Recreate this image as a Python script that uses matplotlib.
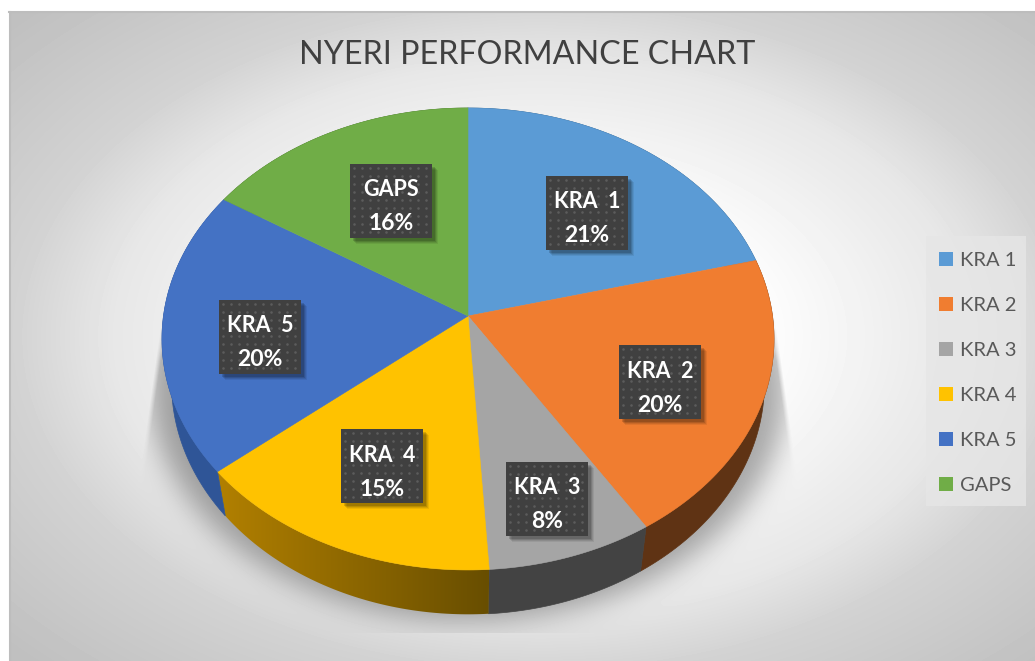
import numpy as np
import matplotlib
matplotlib.use('Agg')
import matplotlib.pyplot as plt
from matplotlib.patches import Rectangle, Polygon

# Datos del grafico
categories = ['KRA 1', 'KRA 2', 'KRA 3', 'KRA 4', 'KRA 5', 'GAPS']
percents = [21, 20, 8, 15, 20, 16]
top_colors = ['#5B9BD5', '#F07D30', '#A5A5A5', '#FFC200', '#4472C4', '#70AD47']
side_colors = ['#335C80', '#5F3314', '#434343', '#7F6000', '#2F5597', '#43682B']
title = 'NYERI PERFORMANCE CHART'

# Centros de las etiquetas en pixeles
label_centers = [(587, 213), (660, 382), (547, 499), (382, 466), (260, 337), (391, 201)]

W, H = 1035, 661
CX = 468
K = 0.0995  # perspectiva


def project(theta, cy, rx, ry):
    """Proyecta un angulo (horario desde arriba) sobre el borde del disco"""
    x, y = np.sin(theta), np.cos(theta)
    d = 1 + K * y
    return CX + rx * x / d, cy - ry * y / d


def rim_top(theta):
    return project(theta, 316, 304.5, 228.7)


def rim_bottom(theta):
    return project(theta, 360, 295, 229)


fig = plt.figure(figsize=(W / 100, H / 100), dpi=100, facecolor='white')
ax = fig.add_axes([0, 0, 1, 1])
ax.axis('off')

# Fondo con degradado
yy, xx = np.mgrid[0:H, 0:W]
dist = np.hypot((xx - 540) / 505, (yy - 336) / 324) / np.sqrt(2)
bg = np.interp(dist, [0, 0.33, 0.53, 0.6, 0.74, 1.0], [255, 252, 236, 231, 210, 192])

# Sombra difusa bajo la tarta
mask = (((xx - CX) / 318) ** 2 + ((yy - 388) / 232) ** 2 < 1).astype(float)
kernel = np.exp(-0.5 * (np.arange(-42, 43) / 14) ** 2)
kernel /= kernel.sum()
mask = np.apply_along_axis(lambda r: np.convolve(r, kernel, mode='same'), 0, mask)
mask = np.apply_along_axis(lambda r: np.convolve(r, kernel, mode='same'), 1, mask)
mask[yy > 632] = 0
# el borde lateral se abre hacia abajo, con un borde algo suave
limit = 305 + np.maximum(yy - 305, 0) * 0.14
mask *= np.clip((limit - np.abs(xx - CX)) / 5, 0, 1)
mask *= np.clip((yy - 300) / 60, 0, 1)
bg = bg * (1 - 0.33 * mask)
bg_img = np.where((xx >= 9) & (yy >= 12), bg, 255)
ax.imshow(bg_img, cmap='gray', vmin=0, vmax=255, extent=(0, W, H, 0), zorder=0, aspect='auto')
ax.plot([10, 10], [12, H], color='#BDBDBD', lw=1.5, zorder=1)
ax.plot([9, W], [12, 12], color='#BDBDBD', lw=1.5, zorder=1)

# Angulos acumulados a partir de los porcentajes
edges = 2 * np.pi * np.cumsum([0] + percents) / np.sum(percents)

# Paredes laterales
for i in range(len(percents)):
    th = np.linspace(edges[i], edges[i + 1], 80)
    xt, yt = rim_top(th)
    xb, yb = rim_bottom(th)
    pts = np.column_stack([np.r_[xt, xb[::-1]], np.r_[yt, yb[::-1]]])
    if categories[i] == 'KRA 4':
        # esta pared tiene degradado de izquierda a derecha
        poly = Polygon(pts, closed=True, fc='none', ec='none', zorder=2)
        ax.add_patch(poly)
        ramp = np.linspace(0, 1, 256)[None, :, None]
        c0 = np.array([178, 128, 0]) / 255
        c1 = np.array([104, 78, 0]) / 255
        grad = c0 + (c1 - c0) * ramp
        im = ax.imshow(grad, extent=(xt.min(), xt.max(), H, 0), zorder=2, aspect='auto')
        im.set_clip_path(poly)
    else:
        ax.add_patch(Polygon(pts, closed=True, fc=side_colors[i], ec=side_colors[i], lw=0.5, zorder=2))

# Cara superior
for i in range(len(percents)):
    th = np.linspace(edges[i], edges[i + 1], 80)
    xt, yt = rim_top(th)
    pts = np.column_stack([np.r_[CX, xt], np.r_[316, yt]])
    ax.add_patch(Polygon(pts, closed=True, fc=top_colors[i], ec=top_colors[i], lw=0.4, zorder=3))

# Etiquetas de datos
BW, BH = 82, 74
for name, pct, (lx, ly) in zip(categories, percents, label_centers):
    for off, alpha in [(6, 0.07), (5, 0.09), (4, 0.12), (3, 0.15)]:
        ax.add_patch(Rectangle((lx - BW / 2 + off, ly - BH / 2 + off), BW, BH, fc='black',
                               ec='none', alpha=alpha, zorder=4))
    ax.add_patch(Rectangle((lx - BW / 2, ly - BH / 2), BW, BH, fc='#404040', ec='none', zorder=5))
    gx, gy = np.meshgrid(np.arange(lx - BW / 2 + 4, lx + BW / 2, 8), np.arange(ly - BH / 2 + 4, ly + BH / 2, 8))
    ax.scatter(gx.ravel(), gy.ravel(), s=3.5, color='#5C5C5C', linewidths=0, zorder=6)
    ax.text(lx, ly - 11, name.replace(' ', '  '), color='white', fontsize=15.5, fontweight='bold',
            family='Lato', ha='center', va='center', zorder=7)
    ax.text(lx, ly + 23, f'{pct}%', color='white', fontsize=16.5, fontweight='bold',
            family='Lato', ha='center', va='center', zorder=7)

# Titulo
ax.text(527.5, 55.5, title, color='#404040', fontsize=23.2, family='Lato', ha='center', va='center', zorder=7)

# Leyenda
ax.add_patch(Rectangle((926, 236), 100, 270, fc='#E6E6E6', ec='none', alpha=0.8, zorder=4))
for i, name in enumerate(categories):
    ly = 259 + 45 * i
    ax.add_patch(Rectangle((939, ly - 7), 14, 14, fc=top_colors[i], ec='none', zorder=5))
    ax.text(960, ly + 1.5, name, color='#595959', fontsize=14.5, family='Lato', ha='left', va='center', zorder=5)

ax.set_xlim(0, W)
ax.set_ylim(H, 0)
fig.savefig('out.png', dpi=100)
